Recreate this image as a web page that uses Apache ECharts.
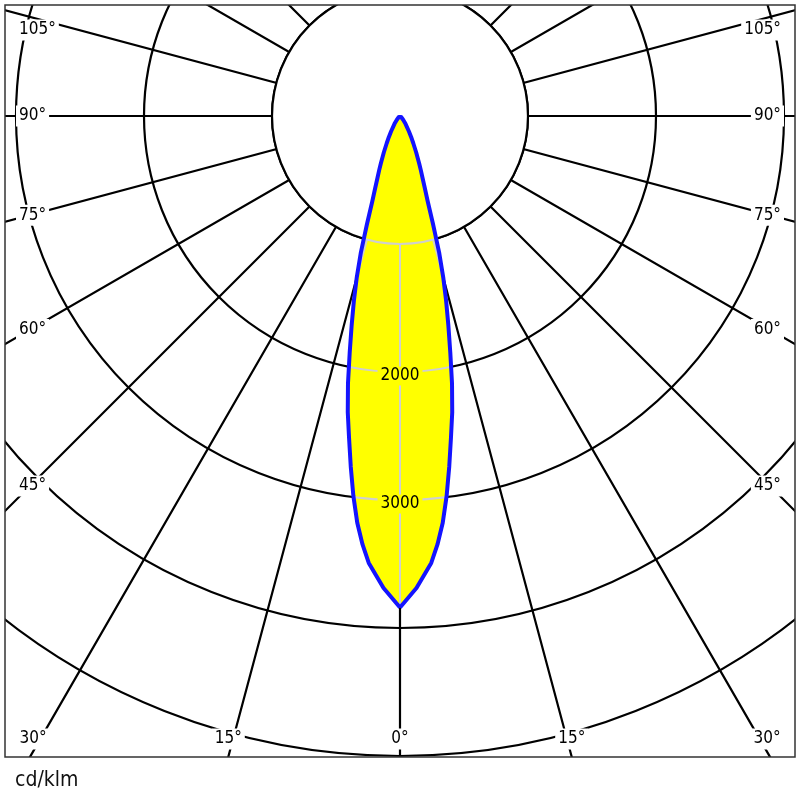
<!DOCTYPE html>
<html><head><meta charset="utf-8">
<script src="https://cdn.jsdelivr.net/npm/echarts@6/dist/echarts.min.js"></script>
<style>html,body{margin:0;padding:0;background:#fff}#c{width:800px;height:800px}</style>
</head><body><div id="c"></div>
<script>
// Luminous intensity (cd/klm) against gamma angle (deg); the lobe is symmetric about 0°
const lobeAngles = [0, 2, 4, 5, 6, 7, 8, 9, 10, 11, 12, 13, 14, 15, 16, 17, 18, 19, 20, 21, 22, 24, 26, 28, 30, 35, 40, 50, 60, 75, 90, 120, 150, 180];
const lobeValues = [3840, 3690, 3500, 3360, 3195, 2990, 2765, 2545, 2350, 2130, 1890, 1680, 1490, 1305, 1110, 882, 700, 595, 515, 455, 400, 310, 237, 185, 140, 75, 38, 12, 4, 0, 0, 0, 0, 0];
const angleTicks = [0, 15, 30, 45, 60, 75, 90, 105];
const radiusTickLabels = [2000, 3000];
const unitLabel = 'cd/klm';

const radiusMax = 6000, radiusStep = 1000, angleStep = 15, innerValue = 1000;
const FONT = "'DejaVu Sans Condensed', 'Liberation Sans', sans-serif";
const FRAME = { x0: 5, y0: 5, x1: 795, y1: 757 };
const GRID_W = 2.2;

const lobeData = [];
for (let i = 0; i < lobeAngles.length; i++) lobeData.push([lobeValues[i], lobeAngles[i]]);
for (let i = lobeAngles.length - 1; i >= 0; i--) lobeData.push([lobeValues[i], 360 - lobeAngles[i]]);

function pxRadius(api, v) {
  const c = api.coord([0, 0]);
  const p = api.coord([v, 0]);
  return Math.hypot(p[0] - c[0], p[1] - c[1]);
}

function diskItem(params, api) {
  const c = api.coord([0, 0]);
  return { type: 'circle', silent: true,
    shape: { cx: c[0], cy: c[1], r: pxRadius(api, innerValue) },
    style: { fill: '#fff', stroke: '#000', lineWidth: GRID_W } };
}

function overlayItem(params, api) {
  const pts = lobeData.map(d => api.coord(d));
  const c = api.coord([0, 0]);
  const children = [];
  for (let v = radiusStep; v <= radiusMax; v += radiusStep) {
    children.push({ type: 'circle', shape: { cx: c[0], cy: c[1], r: pxRadius(api, v) },
      style: { fill: 'none', stroke: '#cfcfcf', lineWidth: 2 } });
  }
  for (let a = 0; a < 360; a += angleStep) {
    const p1 = api.coord([innerValue, a]), p2 = api.coord([radiusMax, a]);
    children.push({ type: 'line', shape: { x1: p1[0], y1: p1[1], x2: p2[0], y2: p2[1] },
      style: { stroke: '#cfcfcf', lineWidth: 2 } });
  }
  return { type: 'group', silent: true, children: children,
    clipPath: { type: 'polygon', shape: { points: pts } } };
}

function labelItem(params, api) {
  const c = api.coord([0, 0]);
  const children = [];
  radiusTickLabels.forEach(v => {
    const p = api.coord([v, 0]);
    children.push({ type: 'text', x: p[0], y: p[1] + 4,
      style: { text: String(v), fill: '#000', fontSize: 17, fontFamily: FONT,
        align: 'center', verticalAlign: 'middle', backgroundColor: '#ffff00', padding: [1, 3] } });
  });
  angleTicks.forEach(a => {
    const angs = a === 0 ? [0] : [a, 360 - a];
    angs.forEach(ang => {
      const p = api.coord([innerValue, ang]);
      let dx = p[0] - c[0], dy = p[1] - c[1];
      const len = Math.hypot(dx, dy); dx /= len; dy /= len;
      const edgeX = dx < 0 ? FRAME.x0 : FRAME.x1;
      const tSide = Math.abs(dx) > 1e-6 ? (edgeX - c[0]) / dx : Infinity;
      const tBottom = dy > 1e-6 ? (FRAME.y1 - c[1]) / dy : Infinity;
      let x, y, align;
      if (tSide < tBottom) {
        const tx = dx < 0 ? 30 : 770;
        const t = (tx - c[0]) / dx;
        y = Math.max(c[1] + dy * t, 30);
        x = dx < 0 ? 16 : 784;
        align = dx < 0 ? 'left' : 'right';
      } else {
        x = Math.min(Math.max(c[0] + dx * tBottom, 33), 767);
        y = 739;
        align = 'center';
      }
      children.push({ type: 'text', x: x, y: y,
        style: { text: a + '°', fill: '#000', fontSize: 17, fontFamily: FONT,
          align: align, verticalAlign: 'middle', backgroundColor: '#fff', padding: [2, 3] } });
    });
  });
  return { type: 'group', silent: true, children: children };
}

const chart = echarts.init(document.getElementById('c'), null, { renderer: 'canvas' });
chart.setOption({
  animation: false,
  backgroundColor: '#fff',
  polar: { center: [400, 116], radius: 768 },
  angleAxis: {
    type: 'value', min: 0, max: 360, interval: angleStep, startAngle: 270, clockwise: true,
    axisLine: { show: false }, axisTick: { show: false }, axisLabel: { show: false },
    splitLine: { show: true, lineStyle: { color: '#000', width: GRID_W } }
  },
  radiusAxis: {
    type: 'value', min: 0, max: radiusMax, interval: radiusStep,
    axisLine: { show: false }, axisTick: { show: false }, axisLabel: { show: false },
    splitLine: { show: true, lineStyle: { color: '#000', width: GRID_W } }
  },
  series: [
    { type: 'custom', coordinateSystem: 'polar', data: [[0, 0]], renderItem: diskItem, z: 1, silent: true },
    { type: 'line', coordinateSystem: 'polar', data: lobeData, symbol: 'none', z: 2, silent: true,
      lineStyle: { width: 0, opacity: 0 }, areaStyle: { color: '#ffff00', opacity: 1 } },
    { type: 'custom', coordinateSystem: 'polar', data: [[0, 0]], renderItem: overlayItem, z: 3, silent: true },
    { type: 'line', coordinateSystem: 'polar', data: lobeData, symbol: 'none', z: 4, silent: true,
      lineStyle: { color: '#1414ff', width: 4, join: 'round' } },
    { type: 'custom', coordinateSystem: 'polar', data: [[0, 0]], renderItem: labelItem, z: 5, silent: true }
  ],
  graphic: [
    { type: 'rect', z: 100, silent: true, shape: { x: 0, y: 0, width: 800, height: FRAME.y0 }, style: { fill: '#fff' } },
    { type: 'rect', z: 100, silent: true, shape: { x: 0, y: FRAME.y1, width: 800, height: 800 - FRAME.y1 }, style: { fill: '#fff' } },
    { type: 'rect', z: 100, silent: true, shape: { x: 0, y: 0, width: FRAME.x0, height: 800 }, style: { fill: '#fff' } },
    { type: 'rect', z: 100, silent: true, shape: { x: FRAME.x1, y: 0, width: 800 - FRAME.x1, height: 800 }, style: { fill: '#fff' } },
    { type: 'rect', z: 101, silent: true,
      shape: { x: FRAME.x0, y: FRAME.y0, width: FRAME.x1 - FRAME.x0, height: FRAME.y1 - FRAME.y0 },
      style: { fill: 'none', stroke: '#333', lineWidth: 1.5 } },
    { type: 'text', z: 101, silent: true, x: 15, y: 781,
      style: { text: unitLabel, fontSize: 21, fontFamily: FONT, fill: '#111', verticalAlign: 'middle' } }
  ]
});
</script>
</body></html>
